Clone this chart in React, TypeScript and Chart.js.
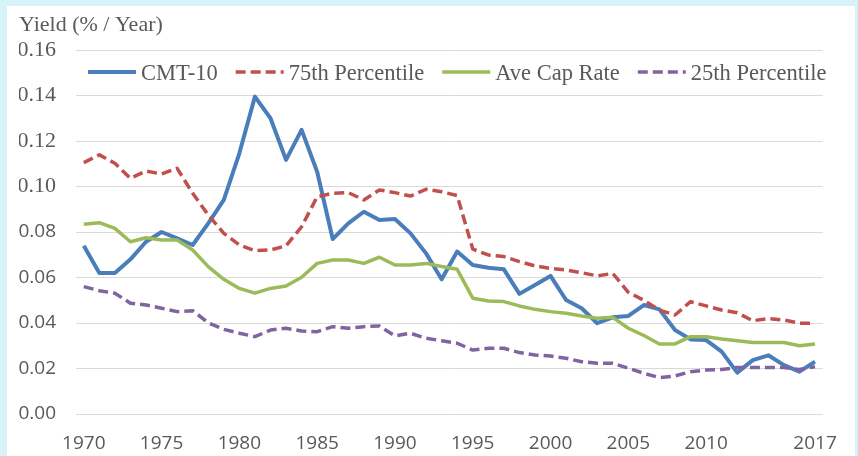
import React, { useEffect, useRef } from "react";
import { Chart, registerables } from "chart.js";

Chart.register(...registerables);

const YEARS = [
  "1970", "1971", "1972", "1973", "1974", "1975", "1976", "1977", "1978", "1979",
  "1980", "1981", "1982", "1983", "1984", "1985", "1986", "1987", "1988", "1989",
  "1990", "1991", "1992", "1993", "1994", "1995", "1996", "1997", "1998", "1999",
  "2000", "2001", "2002", "2003", "2004", "2005", "2006", "2007", "2008", "2009",
  "2010", "2011", "2012", "2013", "2014", "2015", "2016", "2017",
];

const X_TICK_LABELS = ["1970", "1975", "1980", "1985", "1990", "1995", "2000", "2005", "2010", "2017"];

const CMT10 = [
  0.074, 0.062, 0.062, 0.068, 0.0757, 0.080, 0.0772, 0.0743, 0.0838, 0.0941,
  0.1146, 0.1395, 0.130, 0.1117, 0.1249, 0.1065, 0.0769, 0.0838, 0.0889, 0.0853,
  0.0857, 0.0794, 0.0706, 0.0592, 0.0714, 0.0655, 0.0643, 0.0636, 0.0528, 0.0567,
  0.0607, 0.0501, 0.0465, 0.0399, 0.0425, 0.0431, 0.0479, 0.046, 0.0369, 0.0328,
  0.0325, 0.0274, 0.0182, 0.0237, 0.0258, 0.0215, 0.0186, 0.023,
];

const P75 = [
  0.1105, 0.1139, 0.1102, 0.1036, 0.1068, 0.1055, 0.108, 0.097, 0.0875, 0.0794,
  0.0743, 0.0718, 0.0721, 0.0739, 0.0823, 0.0955, 0.097, 0.0973, 0.0941, 0.0985,
  0.0973, 0.0958, 0.0988, 0.0977, 0.096, 0.0725, 0.0699, 0.0692, 0.067, 0.0651,
  0.064, 0.0633, 0.0621, 0.0607, 0.0618, 0.0535, 0.050, 0.0457, 0.0435, 0.0494,
  0.0475, 0.0457, 0.0445, 0.041, 0.0419, 0.0413, 0.0399, 0.0399,
];

const AVE_CAP = [
  0.0834, 0.0841, 0.0816, 0.0757, 0.0775, 0.0765, 0.0765, 0.0721, 0.0648, 0.0592,
  0.0552, 0.0531, 0.0552, 0.0563, 0.0601, 0.0662, 0.0677, 0.0677, 0.0662, 0.0689,
  0.0655, 0.0655, 0.0662, 0.0648, 0.0636, 0.0509, 0.0497, 0.0494, 0.0475, 0.046,
  0.045, 0.0443, 0.0431, 0.0421, 0.0425, 0.0377, 0.0345, 0.0308, 0.0308, 0.034,
  0.034, 0.033, 0.0322, 0.0314, 0.0314, 0.0314, 0.030, 0.0308,
];

const P25 = [
  0.056, 0.0542, 0.0531, 0.0487, 0.0479, 0.0465, 0.045, 0.0454, 0.0401, 0.0372,
  0.0355, 0.034, 0.0369, 0.0377, 0.0365, 0.0362, 0.0384, 0.0377, 0.0384, 0.0387,
  0.0343, 0.0355, 0.0333, 0.0322, 0.0311, 0.0281, 0.0289, 0.0289, 0.027, 0.0259,
  0.0255, 0.0245, 0.023, 0.0223, 0.0223, 0.0201, 0.0179, 0.016, 0.0167, 0.0186,
  0.0193, 0.0196, 0.0204, 0.0204, 0.0204, 0.0204, 0.0196, 0.0208,
];

const SERIF = "'Liberation Serif', 'Times New Roman', serif";
const SANS = "'Open Sans', 'Liberation Sans', sans-serif";
const TEXT_COLOR = "#595959";

// Legend drawn inside the plot area, in one row, under the top gridline
const inlineLegend = {
  id: "inlineLegend",
  afterDraw(chart: any) {
    const { ctx, chartArea } = chart;
    const SAMPLE = 48;
    const GAP_TEXT = 5;
    const GAP_ITEM = 18;
    ctx.save();
    ctx.font = `22.5px ${SERIF}`;
    ctx.textBaseline = "alphabetic";
    ctx.textAlign = "left";
    let x = chartArea.left + 12;
    const yLine = chartArea.top + 22;
    const yText = chartArea.top + 30;
    chart.data.datasets.forEach((ds: any) => {
      ctx.save();
      ctx.strokeStyle = ds.borderColor;
      ctx.lineWidth = ds.borderWidth;
      ctx.lineCap = "butt";
      ctx.setLineDash(ds.borderDash || []);
      ctx.beginPath();
      ctx.moveTo(x, yLine);
      ctx.lineTo(x + SAMPLE, yLine);
      ctx.stroke();
      ctx.restore();
      x += SAMPLE + GAP_TEXT;
      ctx.fillStyle = TEXT_COLOR;
      ctx.fillText(ds.label, x, yText);
      x += ctx.measureText(ds.label).width + GAP_ITEM;
    });
    ctx.restore();
  },
};

export default function App() {
  const ref = useRef<HTMLCanvasElement>(null);

  useEffect(() => {
    const canvas = ref.current;
    if (!canvas) return;
    const base = {
      pointRadius: 0,
      pointHoverRadius: 0,
      tension: 0,
      fill: false,
      borderJoinStyle: "round" as const,
      borderCapStyle: "butt" as const,
    };
    const chart = new Chart(canvas, {
      type: "line",
      data: {
        labels: YEARS,
        datasets: [
          { ...base, label: "CMT-10", data: CMT10, borderColor: "#4A7EBB", backgroundColor: "#4A7EBB", borderWidth: 4, order: 4 },
          { ...base, label: "75th Percentile", data: P75, borderColor: "#C0504D", backgroundColor: "#C0504D", borderWidth: 3.5, borderDash: [10, 5], order: 3 },
          { ...base, label: "Ave Cap Rate", data: AVE_CAP, borderColor: "#9BBB59", backgroundColor: "#9BBB59", borderWidth: 3.5, order: 2 },
          { ...base, label: "25th Percentile", data: P25, borderColor: "#8064A2", backgroundColor: "#8064A2", borderWidth: 3.5, borderDash: [10, 5], order: 1 },
        ],
      },
      options: {
        responsive: false,
        animation: false,
        devicePixelRatio: 1,
        events: [],
        layout: { padding: { left: 12, right: 24, top: 0, bottom: 0 } },
        plugins: {
          title: {
            display: true,
            text: "Yield (% / Year)",
            align: "start",
            color: TEXT_COLOR,
            font: { family: SERIF, size: 22, weight: "normal" },
            padding: { top: 6, bottom: 11.6 },
          },
          legend: { display: false },
          tooltip: { enabled: false },
        },
        scales: {
          x: {
            type: "category",
            offset: true,
            grid: { display: false, drawTicks: false },
            border: { display: false },
            ticks: {
              autoSkip: false,
              maxRotation: 0,
              minRotation: 0,
              padding: 18,
              color: TEXT_COLOR,
              font: { family: SANS, size: 19 },
              callback: (_v: any, i: number) => (X_TICK_LABELS.includes(YEARS[i]) ? YEARS[i] : ""),
            },
            afterFit: (s: any) => {
              s.height = 42;
            },
          },
          y: {
            min: 0,
            max: 0.16,
            border: { display: false },
            grid: { color: "#D9D9D9", lineWidth: 1, drawTicks: false },
            ticks: {
              stepSize: 0.02,
              padding: 20,
              color: TEXT_COLOR,
              font: (c: any) =>
                c.tick && c.tick.value > 0.09
                  ? { family: SERIF, size: 22 }
                  : { family: SANS, size: 19 },
              callback: (v: any) => Number(v).toFixed(2),
            },
            afterFit: (s: any) => {
              s.width = 57;
            },
          },
        },
      },
      plugins: [inlineLegend],
    });
    return () => chart.destroy();
  }, []);

  return (
    <div style={{ position: "fixed", left: 0, top: 0, width: 858, height: 456, background: "#D6F3F7", overflow: "hidden" }}>
      <div style={{ position: "absolute", left: 7, top: 6, width: 848, height: 450, background: "#FFFFFF" }}>
        <canvas ref={ref} width={848} height={450} style={{ display: "block" }} />
      </div>
    </div>
  );
}
